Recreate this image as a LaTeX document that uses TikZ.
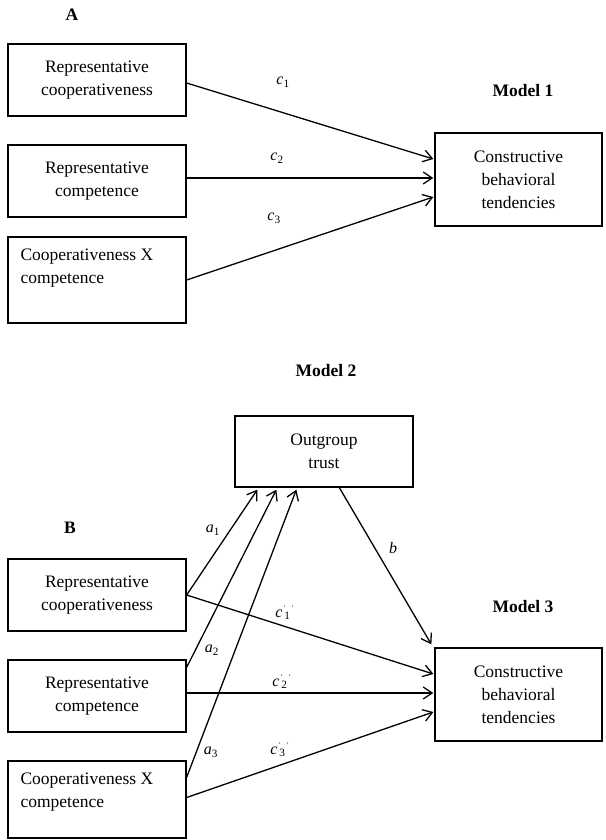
\documentclass[tikz,border=0pt]{standalone}
\usepackage{fontspec}
\setmainfont{Liberation Serif}
\usetikzlibrary{arrows.meta,calc}
\begin{document}
\begin{tikzpicture}[x=1pt,y=-1pt,
  box/.style={draw,line width=1.3pt,minimum width=178pt,inner sep=0pt,align=center,font=\fontsize{17.5}{23}\selectfont},
  outbox/.style={draw,line width=1.3pt,minimum width=167pt,minimum height=93pt,inner sep=0pt,align=center,font=\fontsize{17.5}{23}\selectfont},
  head/.style={font=\fontsize{17.5}{21}\selectfont\bfseries},
  lab/.style={font=\fontsize{16}{18}\selectfont,inner sep=0pt},
  txt/.style={anchor=north west,align=left,inner sep=0pt,font=\fontsize{17.5}{23}\selectfont},
  arr/.style={-{Straight Barb[length=9pt,width=12pt]},line width=1.3pt}]
\useasboundingbox (0,0) rectangle (605,840);

% ---------- Panel A ----------
\node[head] (A) at (72,15) {A};
\node[box,minimum height=72pt] (a1) at (97,80) {Representative\\cooperativeness};
\node[box,minimum height=72pt] (a2) at (97,181) {Representative\\competence};
\node[box,minimum height=86pt] (a3) at (97,280) {};
\node[txt] (a3t) at ($(a3.north west)+(13,12)$) {Cooperativeness X\\competence};
\node[head] (m1l) at (523,91) {Model 1};
\node[outbox] (m1) at (518.5,179.5) {Constructive\\behavioral\\tendencies};

\draw[arr] ($(a1.east)+(0,3)$) -- ($(m1.west)+(-1,-20.5)$);
\draw[arr] ($(a2.east)+(0,-3)$) -- ($(m1.west)+(-1,-1.5)$);
\draw[arr] (a3.east) -- ($(m1.west)+(-1,17.5)$);

\node[lab] (c1) at (283,82) {\textit{c}\textsubscript{1}};
\node[lab] (c2) at (277,158) {\textit{c}\textsubscript{2}};
\node[lab] (c3) at (274,218) {\textit{c}\textsubscript{3}};

% ---------- Panel B ----------
\node[head] (m2l) at (326,371) {Model 2};
\node[box,minimum height=71pt] (tr) at (324,451.5) {Outgroup\\trust};
\node[head] (B) at (70,528) {B};
\node[box,minimum height=72pt] (b1) at (97,595) {Representative\\cooperativeness};
\node[box,minimum height=72pt] (b2) at (97,696) {Representative\\competence};
\node[box,minimum height=77pt] (b3) at (97,799.5) {};
\node[txt] (b3t) at ($(b3.north west)+(13,12)$) {Cooperativeness X\\competence};
\node[head] (m3l) at (523,607) {Model 3};
\node[outbox] (m3) at (518.5,694.5) {Constructive\\behavioral\\tendencies};

\draw[arr] (b1.east) -- ($(tr.south west)+(23,2)$);
\draw[arr] ($(b2.north east)+(0,8)$) -- ($(tr.south west)+(42,2)$);
\draw[arr] ($(b3.north east)+(0,17)$) -- ($(tr.south west)+(62,2)$);
\draw[arr] ($(tr.south west)+(105,0)$) -- ($(m3.north west)+(-3,-3)$);
\draw[arr] (b1.east) -- ($(m3.west)+(-1,-20.5)$);
\draw[arr] ($(b2.east)+(0,-3)$) -- ($(m3.west)+(-1,-1.5)$);
\draw[arr] ($(b3.east)+(0,-2)$) -- ($(m3.west)+(-1,17.5)$);

\node[lab] (la1) at (213,530) {\textit{a}\textsubscript{1}};
\node[lab] (la2) at (212,650) {\textit{a}\textsubscript{2}};
\node[lab] (la3) at (211,752) {\textit{a}\textsubscript{3}};
\node[lab] (lb) at (393,548) {\textit{b}};
\node[lab] (lc1) at (285,613) {\textit{c}\rlap{\textsuperscript{\scriptsize\,’}}\textsubscript{\,1}\textsuperscript{\scriptsize\,’}};
\node[lab] (lc2) at (282,682) {\textit{c}\rlap{\textsuperscript{\scriptsize\,’}}\textsubscript{\,2}\textsuperscript{\scriptsize\,’}};
\node[lab] (lc3) at (280,750) {\textit{c}\rlap{\textsuperscript{\scriptsize\,’}}\textsubscript{\,3}\textsuperscript{\scriptsize\,’}};
\end{tikzpicture}
\end{document}
